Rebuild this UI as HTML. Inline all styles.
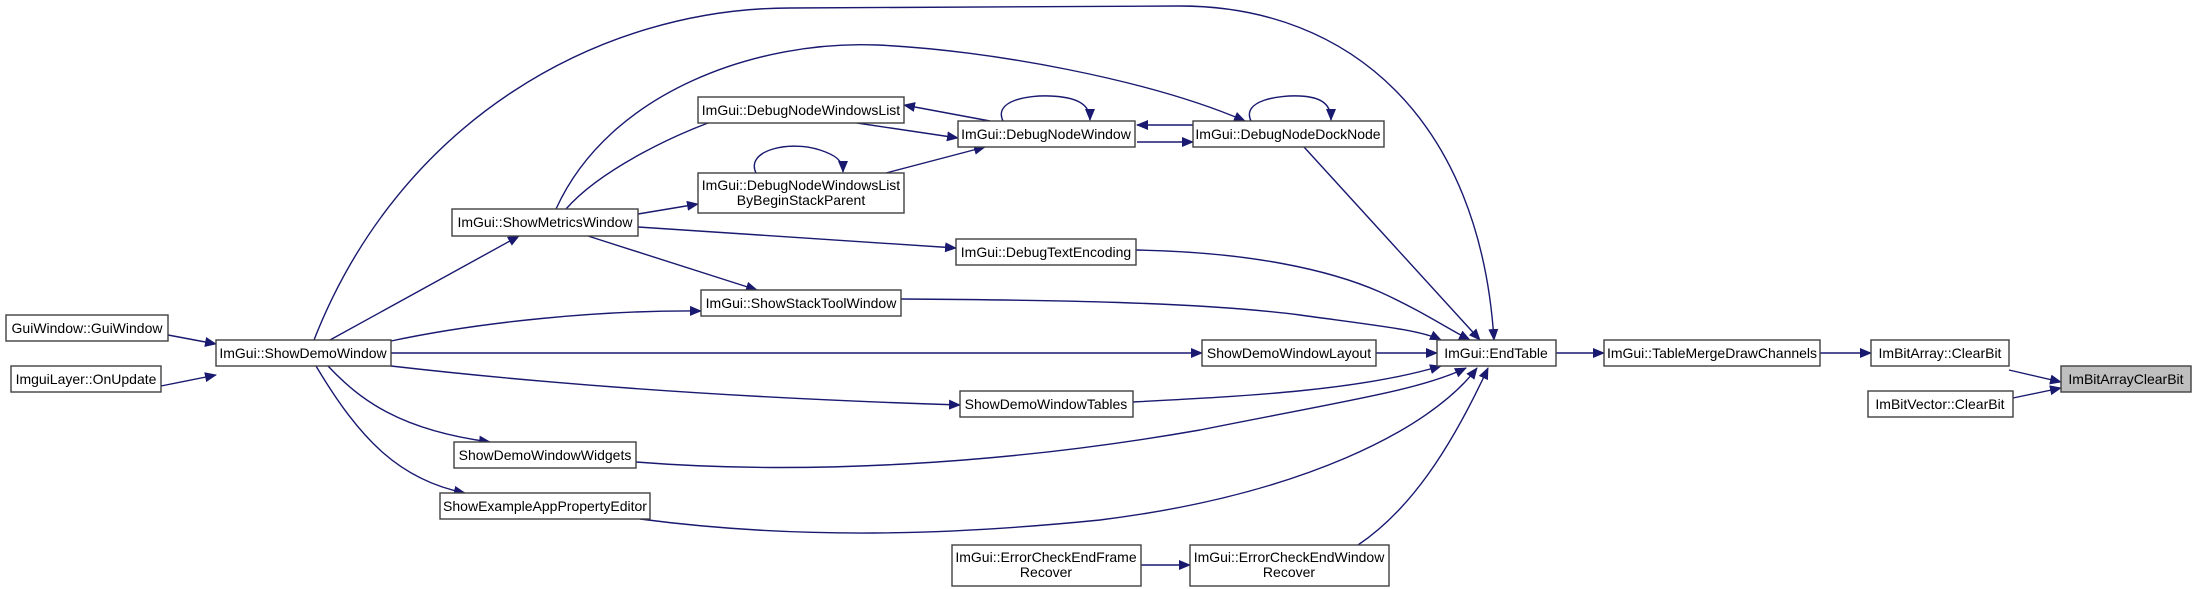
<!DOCTYPE html>
<html><head><meta charset="utf-8"><style>
html,body{margin:0;padding:0;background:#fff;}
svg{display:block;}
text{font-family:"Liberation Sans",Arial,sans-serif;font-size:14px;fill:#000;}
</style></head><body>
<svg width="2192" height="589" viewBox="0 0 2192 589" xmlns="http://www.w3.org/2000/svg">
<defs>
<marker id="a" markerWidth="12" markerHeight="10" refX="11" refY="5" orient="auto" markerUnits="userSpaceOnUse">
<path d="M0,0 L12,5 L0,10 z" fill="#191970"/>
</marker>
</defs>
<g fill="none" stroke="#191970" stroke-width="1.4" marker-end="url(#a)">
<path d="M168,335 L216,344"/>
<path d="M161,386 L216,375"/>
<path d="M330,340 L519,236"/>
<path d="M314,340 C400,120 600,8 790,8 L1180,6 C1350,6 1480,120 1494,340"/>
<path d="M556,209 C610,90 760,40 877,45 C990,50 1150,80 1245,121"/>
<path d="M566,209 C600,170 680,130 735,114"/>
<path d="M638,214 L698,204"/>
<path d="M638,227 L956,248"/>
<path d="M588,236 L757,290"/>
<path d="M391,341 C480,322 600,310 701,311"/>
<path d="M391,353 L1202,353"/>
<path d="M391,366 C600,390 800,400 960,405"/>
<path d="M328,366 C360,400 400,430 490,442"/>
<path d="M316,366 C360,440 400,480 465,493"/>
<path d="M857,123 L958,138"/>
<path d="M990,121 L904,105"/>
<path d="M886,173 L985,147"/>
<path d="M756,173 C745,150 790,140 820,150 C835,155 843,160 843,172"/>
<path d="M1003,121 C993,100 1030,95 1050,96 C1075,97 1090,103 1090,120"/>
<path d="M1193,125 L1137,125"/>
<path d="M1137,142 L1193,142"/>
<path d="M1251,121 C1241,100 1280,95 1300,96 C1320,97 1331,103 1331,120"/>
<path d="M1304,147 L1480,340"/>
<path d="M1136,250 C1250,252 1330,270 1380,292 C1420,310 1450,330 1470,340"/>
<path d="M901,299 C1050,300 1200,302 1300,315 C1380,326 1420,330 1441,340"/>
<path d="M1376,353 L1437,353"/>
<path d="M1133,402 C1250,396 1360,390 1441,366"/>
<path d="M636,462 C800,475 1000,465 1200,430 C1350,400 1420,390 1466,368"/>
<path d="M640,519 C800,540 950,535 1100,520 C1300,495 1430,430 1477,368"/>
<path d="M1358,545 C1410,510 1450,450 1488,368"/>
<path d="M1141,565 L1190,565"/>
<path d="M1556,353 L1604,353"/>
<path d="M1820,353 L1871,353"/>
<path d="M2009,370 L2061,382"/>
<path d="M2013,398 L2061,388"/>
</g>
<g stroke="#404040" stroke-width="1.4" fill="#fff">
<rect x="6" y="315" width="162" height="26"/>
<rect x="11" y="366" width="150" height="26"/>
<rect x="216" y="340" width="175" height="26"/>
<rect x="452" y="209" width="186" height="27"/>
<rect x="698" y="97" width="206" height="26"/>
<rect x="698" y="173" width="206" height="40"/>
<rect x="958" y="121" width="177" height="26"/>
<rect x="1193" y="121" width="191" height="26"/>
<rect x="956" y="239" width="180" height="26"/>
<rect x="701" y="290" width="200" height="26"/>
<rect x="1202" y="340" width="174" height="26"/>
<rect x="1437" y="340" width="119" height="26"/>
<rect x="1604" y="340" width="216" height="26"/>
<rect x="1871" y="340" width="138" height="26"/>
<rect x="2061" y="366" width="130" height="26" fill="#bfbfbf"/>
<rect x="1868" y="391" width="145" height="26"/>
<rect x="960" y="391" width="173" height="26"/>
<rect x="454" y="442" width="182" height="26"/>
<rect x="440" y="493" width="210" height="26"/>
<rect x="952" y="545" width="189" height="41"/>
<rect x="1190" y="545" width="199" height="41"/>
</g>
<g text-anchor="middle">
<text x="87" y="333">GuiWindow::GuiWindow</text>
<text x="86" y="384">ImguiLayer::OnUpdate</text>
<text x="303" y="358">ImGui::ShowDemoWindow</text>
<text x="545" y="227">ImGui::ShowMetricsWindow</text>
<text x="801" y="115">ImGui::DebugNodeWindowsList</text>
<text x="801" y="190">ImGui::DebugNodeWindowsList</text>
<text x="801" y="205">ByBeginStackParent</text>
<text x="1046" y="139">ImGui::DebugNodeWindow</text>
<text x="1288" y="139">ImGui::DebugNodeDockNode</text>
<text x="1046" y="257">ImGui::DebugTextEncoding</text>
<text x="801" y="308">ImGui::ShowStackToolWindow</text>
<text x="1289" y="358">ShowDemoWindowLayout</text>
<text x="1496" y="358">ImGui::EndTable</text>
<text x="1712" y="358">ImGui::TableMergeDrawChannels</text>
<text x="1940" y="358">ImBitArray::ClearBit</text>
<text x="2126" y="384">ImBitArrayClearBit</text>
<text x="1940" y="409">ImBitVector::ClearBit</text>
<text x="1046" y="409">ShowDemoWindowTables</text>
<text x="545" y="460">ShowDemoWindowWidgets</text>
<text x="545" y="511">ShowExampleAppPropertyEditor</text>
<text x="1046" y="562">ImGui::ErrorCheckEndFrame</text>
<text x="1046" y="577">Recover</text>
<text x="1289" y="562">ImGui::ErrorCheckEndWindow</text>
<text x="1289" y="577">Recover</text>
</g>
</svg>
</body></html>
